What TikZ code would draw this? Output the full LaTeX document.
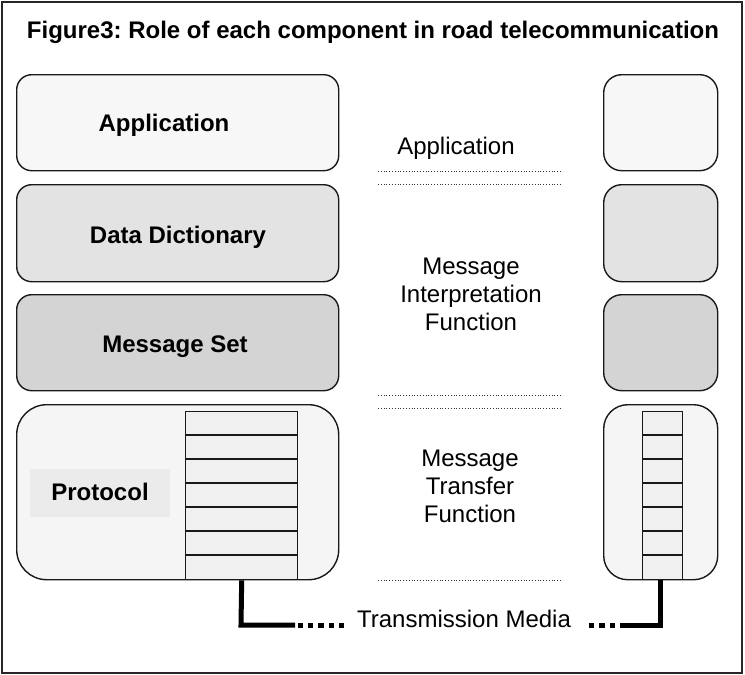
\documentclass[tikz,border=0pt]{standalone}
\usepackage{fontspec}
\setmainfont{Liberation Sans}
\frenchspacing
\begin{document}
\begin{tikzpicture}[x=1pt,y=-1pt,
  every node/.style={font=\fontsize{24}{28}\selectfont, inner sep=0pt},
  layer/.style={draw=black!90, line width=1.4pt, anchor=north west},
  stackbox/.style={draw=black!90, line width=1.4pt, fill=black!6, anchor=north west},
  lbl/.style={font=\fontsize{24}{28}\selectfont\bfseries, anchor=base},
  mid/.style={anchor=base, align=center},
  sepline/.style={line width=0.9pt, dash pattern=on 0.9pt off 1.9pt, black!80},
  media/.style={line width=5pt, line cap=butt},
  mediadots/.style={line width=5pt, dash pattern=on 5.2pt off 5.2pt}
]
\useasboundingbox (0,0) rectangle (745,675);
% outer frame
\draw[line width=1.2pt, black!85] (2,2) rectangle (742,673);

% title
\node[lbl] (title) at (373,38) {Figure3: Role of each component in road telecommunication};

% left column of layers
\node[layer, fill=black!3, rounded corners=15pt, minimum width=322pt, minimum height=96pt] (appL) at (16,74) {};
\node[layer, fill=black!11, rounded corners=15pt, minimum width=322pt, minimum height=97pt] (dictL) at (16,184) {};
\node[layer, fill=black!17, rounded corners=15pt, minimum width=322pt, minimum height=96pt] (msgL) at (16,294) {};
\node[layer, fill=black!4, rounded corners=30pt, minimum width=322pt, minimum height=175pt] (protL) at (16,404) {};

% right column of layers
\node[layer, fill=black!3, rounded corners=18pt, minimum width=114pt, minimum height=96pt] (appR) at (603,74) {};
\node[layer, fill=black!11, rounded corners=18pt, minimum width=114pt, minimum height=97pt] (dictR) at (603,184) {};
\node[layer, fill=black!17, rounded corners=18pt, minimum width=114pt, minimum height=96pt] (msgR) at (603,294) {};
\node[layer, fill=black!4, rounded corners=24pt, minimum width=114pt, minimum height=175pt] (protR) at (603,404) {};

% layer names
\node[lbl] (tApp) at (164,131) {Application};
\node[lbl] (tDict) at (178,243) {Data Dictionary};
\node[lbl] (tMsg) at (175,352) {Message Set};
\fill[black!8] (30,469) rectangle (170,517);
\node[lbl] (tProt) at (100,500) {Protocol};

% protocol stacks
\node[stackbox, minimum width=112pt, minimum height=168pt] (stackL) at (185,411) {};
\node[stackbox, minimum width=40pt, minimum height=168pt] (stackR) at (642,411) {};
\foreach \i in {1,...,6} {
  \draw[line width=1.4pt, black!90] ([yshift=-24*\i pt]stackL.north west) -- ([yshift=-24*\i pt]stackL.north east);
  \draw[line width=1.4pt, black!90] ([yshift=-24*\i pt]stackR.north west) -- ([yshift=-24*\i pt]stackR.north east);
}

% function boundaries
\coordinate (s1a) at (378,171); \coordinate (s1b) at (562,171);
\coordinate (s2a) at (378,184); \coordinate (s2b) at (562,184);
\coordinate (s3a) at (378,395); \coordinate (s3b) at (562,395);
\coordinate (s4a) at (378,408); \coordinate (s4b) at (562,408);
\coordinate (s5a) at (378,580); \coordinate (s5b) at (562,580);
\foreach \k in {1,...,5} \draw[sepline] (s\k a) -- (s\k b);

% function names (base = baseline of the last line)
\node[anchor=base] (fApp) at (456,154) {Application};
\node[mid] (fInt) at (471,330) {Message\\Interpretation\\Function};
\node[mid] (fTr) at (470,522) {Message\\Transfer\\Function};

% transmission media
\coordinate (mL1) at (241,625);
\coordinate (mL2) at (295,625);
\coordinate (mL3) at (297.5,625);
\coordinate (mL4) at (346,625);
\coordinate (mR1) at (660,625);
\coordinate (mR2) at (620,625);
\coordinate (mR3) at (617.5,625);
\coordinate (mR4) at (589,625);
\draw[media] (stackL.south) -- (mL1) -- (mL2);
\draw[mediadots] (mL3) -- (mL4);
\draw[media] (stackR.south -| mR1) -- (mR1) -- (mR2);
\draw[mediadots] (mR4) -- (mR3);
\node[anchor=base] (media) at (464,627) {Transmission Media};
\end{tikzpicture}
\end{document}
